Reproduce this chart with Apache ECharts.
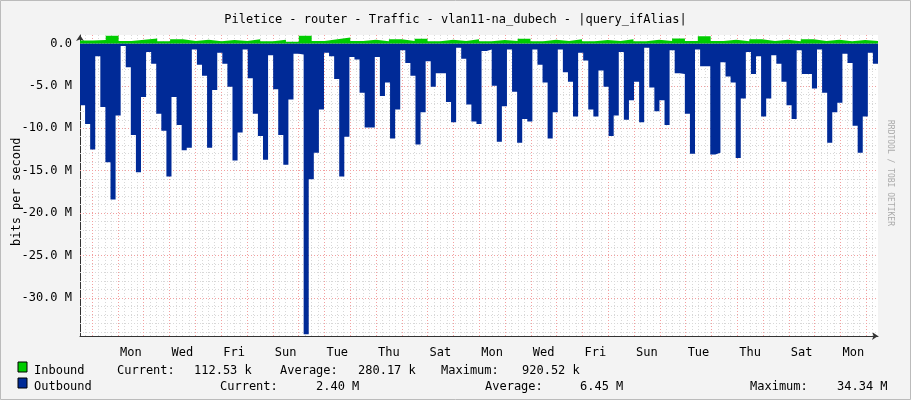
<!DOCTYPE html>
<html>
<head>
	<title>Traffic</title>
	<script src="https://cdn.jsdelivr.net/npm/echarts@6/dist/echarts.min.js"></script>
	<style>body{margin:0;background:#f3f3f3;}</style>
</head>
<body>
	<div id="main" style="width: 911px;height:400px;"></div>
	<script type="text/javascript">
	// hours shown across the plot, and where the first Monday 00:00 falls
	var totalHours = 742.3;
	var firstMonday = 35.3;
	var dayLabels = ['Mon', 'Wed', 'Fri', 'Sun', 'Tue', 'Thu', 'Sat', 'Mon', 'Wed', 'Fri', 'Sun', 'Tue', 'Thu', 'Sat', 'Mon'];
	var yLabels = [0, -5, -10, -15, -20, -25, -30];

	// outbound (M bits/s, shown negative), read left to right
	var outbound = [-7.3,-9.5,-12.5,-1.5,-7.5,-14,-18.4,-8.5,-0.3,-2.8,-10.8,-15.2,-6.3,-1,-2.4,-8.3,-10.3,-15.7,-6.3,-9.6,
		-12.6,-12.3,-0.7,-2.5,-3.8,-12.3,-5.5,-1.1,-2.4,-5.1,-13.8,-10.5,-0.7,-4.1,-8.3,-10.9,-13.7,-1.4,-5.4,-10.8,
		-14.3,-6.6,-1.2,-1.3,-34.3,-16,-12.9,-7.8,-1.1,-1.5,-4.2,-15.7,-11,-1.6,-1.9,-5.8,-9.9,-9.9,-1.6,-6.2,
		-4.6,-11.2,-7.8,-0.8,-2.3,-3.8,-11.9,-8.1,-2.1,-5.1,-3.5,-3.5,-6.9,-9.3,-0.5,-1.8,-7.2,-9.2,-9.5,-0.9,
		-0.7,-5,-11.6,-7.4,-0.7,-5.7,-11.7,-8.9,-9.2,-0.7,-2.5,-4.6,-11.2,-8.1,-0.7,-3.4,-4.5,-8.6,-1.1,-2,
		-7.8,-8.6,-3.2,-5.1,-10.9,-8.5,-1,-9,-6.7,-4.5,-9.3,-0.5,-5.2,-8,-6.7,-9.6,-0.8,-3.5,-3.6,-8.3,
		-13,-0.7,-2.7,-2.7,-13.1,-12.9,-2.2,-3.9,-4.6,-13.5,-6.5,-1,-3.6,-1.5,-8.6,-6.5,-1.4,-2.4,-4.5,-7.3,
		-8.9,-0.8,-3.6,-3.6,-5.3,-0.7,-5.8,-11.7,-8.1,-7,-1.2,-2.3,-9.7,-12.9,-8.6,-1.1,-2.4];

	// inbound (M bits/s), roughly every 12 hours
	var inbound = [0.35,0.4,0.9,0.3,0.45,0.6,0.25,0.5,0.3,0.45,0.25,0.4,0.3,0.5,0.25,0.45,0.2,0.9,0.3,0.5,
		0.7,0.3,0.45,0.25,0.5,0.3,0.55,0.25,0.45,0.3,0.5,0.25,0.4,0.3,0.55,0.25,0.45,0.3,0.5,0.25,
		0.4,0.3,0.5,0.25,0.45,0.3,0.6,0.3,0.85,0.3,0.45,0.25,0.5,0.3,0.45,0.25,0.5,0.3,0.45,0.25,0.4,0.3];

	function toPoints(arr) {
		var step = totalHours / arr.length;
		var pts = arr.map(function (v, i) { return [i * step, v]; });
		pts.push([totalHours, arr[arr.length - 1]]);
		return pts;
	}

	var dayLines = [], minorX = [], labelX = [];
	for (var h = firstMonday - 24 * 2; h < totalHours; h += 6) {
		if (h <= 0) continue;
		var rel = Math.round((h - firstMonday) / 6);
		if (rel % 4 === 0) dayLines.push({ xAxis: h }); else minorX.push({ xAxis: h });
	}
	dayLabels.forEach(function (d, i) { labelX.push(firstMonday + 12 + 48 * i); });
	var majorY = [], minorY = [];
	for (var m = 0; m >= -34; m--) {
		if (m % 5 === 0) majorY.push({ yAxis: m }); else minorY.push({ yAxis: m });
	}
	var minorLine = { color: '#d8d8d8', type: [1, 2], width: 1 };
	var majorLine = { color: '#f2a0a0', type: [1, 2], width: 1 };

	var myChart = echarts.init(document.getElementById('main'));
	var mono = 'DejaVu Sans Mono';
	function txt(x, y, s) {
		return { type: 'text', x: x, y: y, z: 10, style: { text: s, font: '12px ' + mono, fill: '#000' } };
	}
	option = {
		backgroundColor: '#f3f3f3',
		animation: false,
		title: {
			text: 'Piletice - router - Traffic - vlan11-na_dubech - |query_ifAlias|',
			left: 'center', top: 4,
			textStyle: { fontFamily: mono, fontSize: 12, fontWeight: 'normal', color: '#000' }
		},
		grid: { left: 80, right: 33, top: 35, bottom: 64, backgroundColor: '#fff', show: true, borderWidth: 0, outerBoundsMode: 'none', containLabel: false },
		xAxis: {
			type: 'value', min: 0, max: totalHours,
			splitLine: { show: false },
			axisTick: { show: false },
			axisLine: { onZero: false, symbol: ['none', 'arrow'], symbolSize: [6, 6], lineStyle: { color: '#333' } },
			axisLabel: {
				customValues: labelX, fontFamily: mono, fontSize: 12, color: '#000', margin: 6,
				formatter: function (v) {
					var i = Math.round((v - firstMonday - 12) / 48);
					return dayLabels[i] || '';
				}
			}
		},
		yAxis: {
			type: 'value', min: -34.5, max: 1.0,
			splitLine: { show: false },
			axisTick: { show: false },
			axisLine: { onZero: false, symbol: ['none', 'arrow'], symbolSize: [6, 6], lineStyle: { color: '#333' } },
			axisLabel: {
				customValues: yLabels, fontFamily: mono, fontSize: 12, color: '#000', margin: 8,
				formatter: function (v) { return v === 0 ? '0.0' : v.toFixed(1) + ' M'; }
			}
		},
		series: [
			{
				type: 'line', data: [], silent: true, z: 1,
				markLine: {
					symbol: 'none', silent: true, label: { show: false }, z: 1,
					data: minorX.map(function (d) { return Object.assign({ lineStyle: minorLine }, d); })
						.concat(minorY.map(function (d) { return Object.assign({ lineStyle: minorLine }, d); }))
						.concat(dayLines.map(function (d) { return Object.assign({ lineStyle: majorLine }, d); }))
						.concat(majorY.map(function (d) { return Object.assign({ lineStyle: majorLine }, d); }))
				}
			},
			{
				name: 'Outbound', type: 'line', step: 'end', symbol: 'none', z: 5,
				data: toPoints(outbound),
				lineStyle: { width: 0 },
				areaStyle: { color: '#002a97', opacity: 1 }
			},
			{
				name: 'Inbound', type: 'line', step: 'end', symbol: 'none', z: 5,
				data: toPoints(inbound),
				lineStyle: { width: 0 },
				areaStyle: { color: '#00cc00', opacity: 1 }
			}
		],
		graphic: [
			{ type: 'rect', shape: { x: 0.5, y: 0.5, width: 910, height: 399 }, style: { fill: 'none', stroke: '#bbb', lineWidth: 1 } },
			{ type: 'text', x: 6, y: 246, rotation: Math.PI / 2, style: { text: 'bits per second', font: '12px ' + mono, fill: '#000' } },
			{ type: 'text', x: 897, y: 120, rotation: -Math.PI / 2, style: { text: 'RRDTOOL / TOBI OETIKER', font: '8px ' + mono, fill: '#aaa' } },
			{ type: 'rect', shape: { x: 18, y: 362, width: 9, height: 10 }, style: { fill: '#00cc00', stroke: '#000', lineWidth: 1 } },
			{ type: 'rect', shape: { x: 18, y: 378, width: 9, height: 10 }, style: { fill: '#002a97', stroke: '#000', lineWidth: 1 } },
			txt(34, 360, 'Inbound'), txt(117, 360, 'Current:'), txt(194, 360, '112.53 k'),
			txt(280, 360, 'Average:'), txt(358, 360, '280.17 k'), txt(441, 360, 'Maximum:'), txt(522, 360, '920.52 k'),
			txt(34, 376, 'Outbound'), txt(220, 376, 'Current:'), txt(316, 376, '2.40 M'),
			txt(485, 376, 'Average:'), txt(580, 376, '6.45 M'), txt(750, 376, 'Maximum:'), txt(837, 376, '34.34 M')
		]
	};
	myChart.setOption(option);
	</script>
</body>
</html>
